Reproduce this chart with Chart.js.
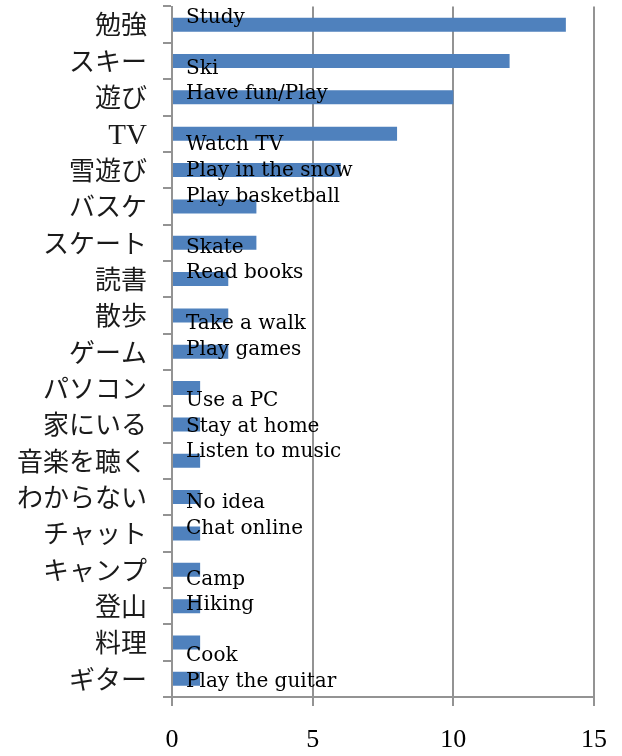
<!DOCTYPE html>
<html>
<head>
<meta charset="utf-8">
<script src="https://cdn.jsdelivr.net/npm/chart.js@4/dist/chart.umd.min.js"></script>
<style>
  html, body { margin: 0; padding: 0; background: #fff; }
  canvas { display: block; }
</style>
</head>
<body>
<canvas id="c" width="622" height="756"></canvas>
<script>
// Activities (Japanese) and how many answers each got
const categories = ['勉強', 'スキー', '遊び', 'TV', '雪遊び', 'バスケ', 'スケート', '読書', '散歩', 'ゲーム',
  'パソコン', '家にいる', '音楽を聴く', 'わからない', 'チャット', 'キャンプ', '登山', '料理', 'ギター'];
const counts = [14, 12, 10, 8, 6, 3, 3, 2, 2, 2, 1, 1, 1, 1, 1, 1, 1, 1, 1];
const xTicks = [0, 5, 10, 15];

// English glosses, written as one text block (empty strings are blank lines)
const englishLines = ['Study', '', 'Ski', 'Have fun/Play', '', 'Watch TV', 'Play in the snow',
  'Play basketball', '', 'Skate', 'Read books', '', 'Take a walk', 'Play games', '',
  'Use a PC', 'Stay at home', 'Listen to music', '', 'No idea', 'Chat online', '',
  'Camp', 'Hiking', '', 'Cook', 'Play the guitar'];

const AXIS_GRAY = '#939393';
const LABEL_FAMILY = '"Liberation Serif", "Noto Sans CJK JP"';

const glossBlock = {
  id: 'glossBlock',
  afterDatasetsDraw(chart) {
    const { ctx, chartArea, scales } = chart;
    const x = scales.x.getPixelForValue(0.5);
    const lineHeight = 25.55;
    const firstBaseline = chartArea.top + 16.2;
    ctx.save();
    ctx.font = '20px "DejaVu Serif"';
    ctx.fillStyle = '#000';
    ctx.textAlign = 'left';
    ctx.textBaseline = 'alphabetic';
    englishLines.forEach((line, i) => {
      if (line) ctx.fillText(line, x, firstBaseline + i * lineHeight);
    });
    ctx.restore();
  }
};

new Chart(document.getElementById('c'), {
  type: 'bar',
  data: {
    labels: categories,
    datasets: [{
      data: counts,
      backgroundColor: '#4F81BD',
      borderWidth: 0,
      barPercentage: 0.385,
      categoryPercentage: 1
    }]
  },
  options: {
    indexAxis: 'y',
    responsive: false,
    animation: false,
    devicePixelRatio: 1,
    layout: { padding: { top: 6.5, right: 28, left: 0, bottom: 0 } },
    plugins: { legend: { display: false }, tooltip: { enabled: false } },
    scales: {
      x: {
        min: 0,
        max: 15,
        afterBuildTicks(s) { s.ticks = xTicks.map(v => ({ value: v })); },
        afterFit(s) { s.height = 59; s.paddingLeft = 0; s.paddingRight = 0; },
        ticks: {
          color: '#000',
          font: { family: '"Liberation Serif"', size: 26 },
          padding: 19
        },
        grid: { color: AXIS_GRAY, lineWidth: 2, tickLength: 9, drawTicks: true },
        border: { color: AXIS_GRAY, width: 2 }
      },
      y: {
        afterFit(s) { s.width = 172; s.paddingTop = 0; s.paddingBottom = 0; },
        ticks: {
          autoSkip: false,
          color: '#1a1a1a',
          font: (c) => ({ family: LABEL_FAMILY, size: c.tick && /^[A-Za-z]+$/.test(c.tick.label) ? 29 : 26 }),
          padding: 16,
          labelOffset: 3
        },
        grid: { drawOnChartArea: false, drawTicks: true, tickLength: 9, color: AXIS_GRAY, lineWidth: 2, offset: true },
        border: { color: AXIS_GRAY, width: 2 }
      }
    }
  },
  plugins: [glossBlock]
});
</script>
</body>
</html>
